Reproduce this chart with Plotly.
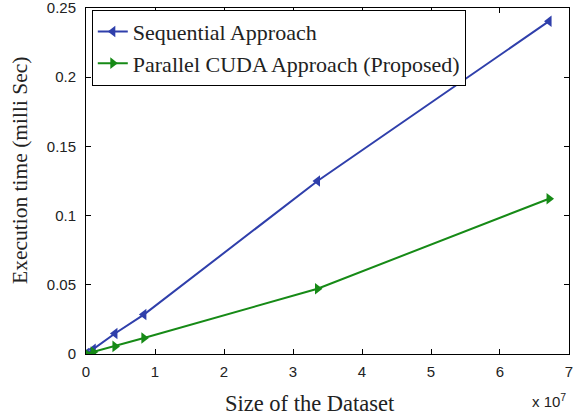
import plotly.graph_objects as go

sizes = [65536, 1048576, 4194304, 8388608, 33554432, 67108864]
sequential = [0.0003, 0.0035, 0.0148, 0.0285, 0.125, 0.2405]
parallel = [0.0002, 0.0015, 0.0055, 0.0115, 0.0472, 0.1122]
x_ticks = [0, 1e7, 2e7, 3e7, 4e7, 5e7, 6e7, 7e7]
x_tick_labels = ["0", "1", "2", "3", "4", "5", "6", "7"]
y_ticks = [0, 0.05, 0.1, 0.15, 0.2, 0.25]
y_tick_labels = ["0", "0.05", "0.1", "0.15", "0.2", "0.25"]

blue = "#2f3fab"
green = "#168a16"
serif = "Liberation Serif, Times New Roman, serif"
sans = "Liberation Sans, Arial, sans-serif"

fig = go.Figure()
fig.add_trace(go.Scatter(
    x=sizes, y=sequential, mode="lines+markers", name="Sequential Approach",
    line=dict(color=blue, width=2),
    marker=dict(symbol="triangle-left", size=10, color=blue),
))
fig.add_trace(go.Scatter(
    x=sizes, y=parallel, mode="lines+markers", name="Parallel CUDA Approach (Proposed)",
    line=dict(color=green, width=2),
    marker=dict(symbol="triangle-right", size=10, color=green),
))

axis_common = dict(
    showgrid=False, zeroline=False, showline=True, linecolor="black", linewidth=1,
    mirror="allticks", ticks="inside", ticklen=5, tickcolor="black",
    tickfont=dict(family=sans, size=15, color="#222"), automargin=False,
    ticklabeloverflow="allow",
)

fig.update_layout(
    width=576, height=417,
    margin=dict(l=86, r=7, t=8, b=63, autoexpand=False),
    paper_bgcolor="white", plot_bgcolor="white",
    xaxis=dict(range=[0, 7.0001e7], tickvals=x_ticks, ticktext=x_tick_labels,
               ticklabelstandoff=4, **axis_common),
    yaxis=dict(range=[0, 0.25001], tickvals=y_ticks, ticktext=y_tick_labels,
               ticklabelstandoff=6, **axis_common),
    legend=dict(x=0.012, y=0.995, xanchor="left", yanchor="top",
                bgcolor="white", bordercolor="black", borderwidth=1,
                font=dict(family=serif, size=22, color="#222"),
                itemwidth=30, tracegroupgap=0),
    showlegend=True,
)

fig.add_annotation(
    text="Size of the Dataset", xref="paper", yref="paper", x=0.464, y=0,
    xanchor="center", yanchor="middle", yshift=-49, showarrow=False,
    font=dict(family=serif, size=22.5, color="#222"),
)
fig.add_annotation(
    text="Execution time (milli Sec)", xref="paper", yref="paper", x=0, y=0.529,
    xanchor="center", yanchor="middle", xshift=-66, textangle=-90, showarrow=False,
    font=dict(family=serif, size=21.5, color="#222"),
)
fig.add_annotation(
    text="x 10<sup>7</sup>", xref="paper", yref="paper", x=0.997, y=0,
    xanchor="right", yanchor="middle", yshift=-46, showarrow=False,
    font=dict(family=sans, size=15, color="#222"),
)

fig.write_html(
    "out.html",
    config={"displayModeBar": False},
    post_script="document.body.style.margin='0';document.body.style.overflow='hidden';",
)
